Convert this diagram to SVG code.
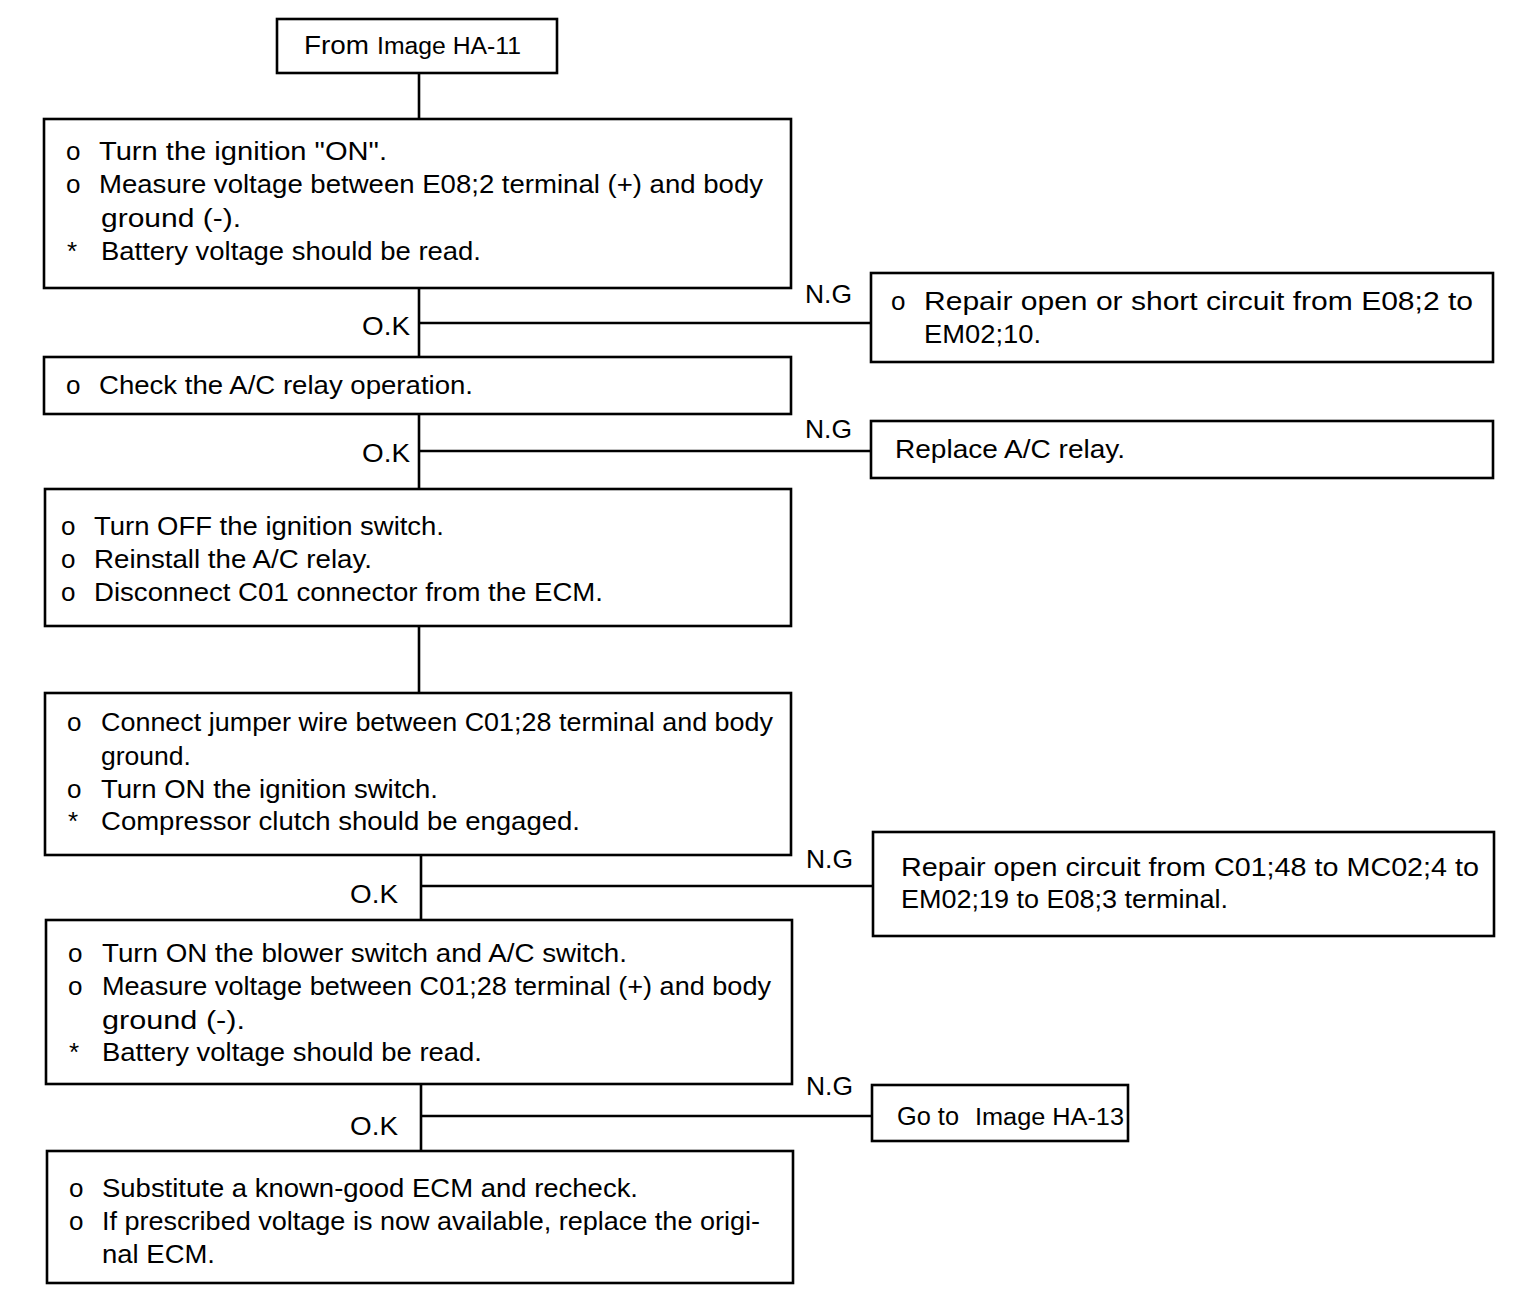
<svg xmlns="http://www.w3.org/2000/svg" width="1536" height="1314" viewBox="0 0 1536 1314">
<style>
rect.b{fill:#fff;stroke:#000;stroke-width:2.6}
.c line{stroke:#000;stroke-width:2.6}
text{font-family:"Liberation Sans",Arial,sans-serif;font-size:26px;fill:#000}
.s{font-size:23px}
.l{font-size:25px}
</style>
<rect width="1536" height="1314" fill="#fff"/>
<g id="connectors" class="c">
<line x1="419" y1="73" x2="419" y2="119"/>
<line x1="419" y1="288" x2="419" y2="357"/>
<line x1="419" y1="323" x2="871" y2="323"/>
<line x1="419" y1="414" x2="419" y2="489"/>
<line x1="419" y1="451" x2="871" y2="451"/>
<line x1="419" y1="626" x2="419" y2="693"/>
<line x1="421" y1="855" x2="421" y2="920"/>
<line x1="421" y1="886" x2="873" y2="886"/>
<line x1="421" y1="1084" x2="421" y2="1151"/>
<line x1="421" y1="1116" x2="872" y2="1116"/>
<text class="l" x="362" y="335" textLength="48" lengthAdjust="spacingAndGlyphs">O.K</text>
<text class="l" x="805" y="303" textLength="47" lengthAdjust="spacingAndGlyphs">N.G</text>
<text class="l" x="362" y="462" textLength="48" lengthAdjust="spacingAndGlyphs">O.K</text>
<text class="l" x="805" y="438" textLength="47" lengthAdjust="spacingAndGlyphs">N.G</text>
<text class="l" x="350" y="903" textLength="48" lengthAdjust="spacingAndGlyphs">O.K</text>
<text class="l" x="806" y="868" textLength="47" lengthAdjust="spacingAndGlyphs">N.G</text>
<text class="l" x="350" y="1135" textLength="48" lengthAdjust="spacingAndGlyphs">O.K</text>
<text class="l" x="806" y="1095" textLength="47" lengthAdjust="spacingAndGlyphs">N.G</text>
</g>
<g id="start">
<rect class="b" x="277" y="19" width="280" height="54"/>
<text x="304" y="54" textLength="65" lengthAdjust="spacingAndGlyphs">From</text>
<text class="s" x="377" y="54" textLength="144" lengthAdjust="spacingAndGlyphs">Image HA-11</text>
</g>
<g id="step1">
<rect class="b" x="44" y="119" width="747" height="169"/>
<text x="66" y="160">o</text><text x="99" y="160" textLength="288" lengthAdjust="spacingAndGlyphs">Turn the ignition "ON".</text>
<text x="66" y="193">o</text><text x="99" y="193" textLength="664" lengthAdjust="spacingAndGlyphs">Measure voltage between E08;2 terminal (+) and body</text>
<text x="101" y="227" textLength="140" lengthAdjust="spacingAndGlyphs">ground (-).</text>
<text x="67" y="260">*</text><text x="101" y="260" textLength="380" lengthAdjust="spacingAndGlyphs">Battery voltage should be read.</text>
</g>
<g id="ng1">
<rect class="b" x="871" y="273" width="622" height="89"/>
<text x="891" y="310">o</text><text x="924" y="310" textLength="549" lengthAdjust="spacingAndGlyphs">Repair open or short circuit from E08;2 to</text>
<text x="924" y="343" textLength="117" lengthAdjust="spacingAndGlyphs">EM02;10.</text>
</g>
<g id="step2">
<rect class="b" x="44" y="357" width="747" height="57"/>
<text x="66" y="394">o</text><text x="99" y="394" textLength="374" lengthAdjust="spacingAndGlyphs">Check the A/C relay operation.</text>
</g>
<g id="ng2">
<rect class="b" x="871" y="421" width="622" height="57"/>
<text x="895" y="458" textLength="230" lengthAdjust="spacingAndGlyphs">Replace A/C relay.</text>
</g>
<g id="step3">
<rect class="b" x="45" y="489" width="746" height="137"/>
<text x="61" y="535">o</text><text x="94" y="535" textLength="350" lengthAdjust="spacingAndGlyphs">Turn OFF the ignition switch.</text>
<text x="61" y="568">o</text><text x="94" y="568" textLength="278" lengthAdjust="spacingAndGlyphs">Reinstall the A/C relay.</text>
<text x="61" y="601">o</text><text x="94" y="601" textLength="509" lengthAdjust="spacingAndGlyphs">Disconnect C01 connector from the ECM.</text>
</g>
<g id="step4">
<rect class="b" x="45" y="693" width="746" height="162"/>
<text x="67" y="731">o</text><text x="101" y="731" textLength="672" lengthAdjust="spacingAndGlyphs">Connect jumper wire between C01;28 terminal and body</text>
<text x="101" y="765" textLength="90" lengthAdjust="spacingAndGlyphs">ground.</text>
<text x="67" y="798">o</text><text x="101" y="798" textLength="337" lengthAdjust="spacingAndGlyphs">Turn ON the ignition switch.</text>
<text x="68" y="830">*</text><text x="101" y="830" textLength="479" lengthAdjust="spacingAndGlyphs">Compressor clutch should be engaged.</text>
</g>
<g id="ng3">
<rect class="b" x="873" y="832" width="621" height="104"/>
<text x="901" y="876" textLength="578" lengthAdjust="spacingAndGlyphs">Repair open circuit from C01;48 to MC02;4 to</text>
<text x="901" y="908" textLength="327" lengthAdjust="spacingAndGlyphs">EM02;19 to E08;3 terminal.</text>
</g>
<g id="step5">
<rect class="b" x="46" y="920" width="746" height="164"/>
<text x="68" y="962">o</text><text x="102" y="962" textLength="525" lengthAdjust="spacingAndGlyphs">Turn ON the blower switch and A/C switch.</text>
<text x="68" y="995">o</text><text x="102" y="995" textLength="669" lengthAdjust="spacingAndGlyphs">Measure voltage between C01;28 terminal (+) and body</text>
<text x="102" y="1029" textLength="143" lengthAdjust="spacingAndGlyphs">ground (-).</text>
<text x="69" y="1061">*</text><text x="102" y="1061" textLength="380" lengthAdjust="spacingAndGlyphs">Battery voltage should be read.</text>
</g>
<g id="ng4">
<rect class="b" x="872" y="1085" width="256" height="56"/>
<text x="897" y="1125" textLength="62" lengthAdjust="spacingAndGlyphs">Go to</text>
<text class="s" x="975" y="1125" textLength="149" lengthAdjust="spacingAndGlyphs">Image HA-13</text>
</g>
<g id="step6">
<rect class="b" x="47" y="1151" width="746" height="132"/>
<text x="69" y="1197">o</text><text x="102" y="1197" textLength="536" lengthAdjust="spacingAndGlyphs">Substitute a known-good ECM and recheck.</text>
<text x="69" y="1230">o</text><text x="102" y="1230" textLength="658" lengthAdjust="spacingAndGlyphs">If prescribed voltage is now available, replace the origi-</text>
<text x="102" y="1263" textLength="113" lengthAdjust="spacingAndGlyphs">nal ECM.</text>
</g>
</svg>
